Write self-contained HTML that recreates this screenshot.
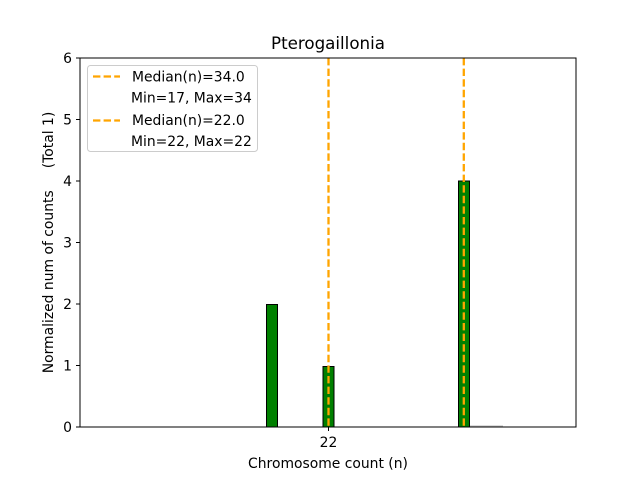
<!DOCTYPE html>
<html><head><meta charset="utf-8"><style>
html,body{margin:0;padding:0;background:#fff;}
svg{display:block;}
text{font-family:"DejaVu Sans","Liberation Sans",sans-serif;fill:#000;}
</style></head><body>
<svg width="640" height="480" viewBox="0 0 640 480" xmlns="http://www.w3.org/2000/svg">
<rect x="0" y="0" width="640" height="480" fill="#fff"/>
<!-- bars -->
<rect x="266.5" y="304.5" width="11" height="122.5" fill="#008000" stroke="#000" stroke-width="1"/>
<rect x="323" y="366.5" width="11" height="60.5" fill="#008000" stroke="#000" stroke-width="1"/>
<rect x="458.5" y="181" width="11" height="246" fill="#008000" stroke="#000" stroke-width="1"/>
<line x1="470" y1="426" x2="503" y2="426" stroke="#bbb" stroke-width="1"/>
<!-- median lines -->
<line x1="328.5" y1="58" x2="328.5" y2="427" stroke="#FFA500" stroke-width="2.3" stroke-dasharray="7.4,3.2"/>
<line x1="463.8" y1="58" x2="463.8" y2="427" stroke="#FFA500" stroke-width="2.3" stroke-dasharray="7.4,3.2"/>
<!-- axes frame -->
<rect x="80" y="58" width="496" height="369" fill="none" stroke="#000" stroke-width="1"/>
<!-- y ticks -->
<g stroke="#000" stroke-width="1">
<line x1="76" y1="427" x2="80" y2="427"/>
<line x1="76" y1="365.5" x2="80" y2="365.5"/>
<line x1="76" y1="304" x2="80" y2="304"/>
<line x1="76" y1="242.5" x2="80" y2="242.5"/>
<line x1="76" y1="181" x2="80" y2="181"/>
<line x1="76" y1="119.5" x2="80" y2="119.5"/>
<line x1="76" y1="58" x2="80" y2="58"/>
<line x1="328.5" y1="427" x2="328.5" y2="431"/>
</g>
<g font-size="13.9" text-anchor="end">
<text x="72" y="432">0</text>
<text x="72" y="370.5">1</text>
<text x="72" y="309">2</text>
<text x="72" y="247.5">3</text>
<text x="72" y="186">4</text>
<text x="72" y="124.5">5</text>
<text x="72" y="63">6</text>
</g>
<text x="328.5" y="447" font-size="13.9" text-anchor="middle">22</text>
<text x="328" y="468" font-size="13.9" text-anchor="middle">Chromosome count (n)</text>
<text x="328" y="49" font-size="16.7" text-anchor="middle">Pterogaillonia</text>
<text transform="translate(53,242.5) rotate(-90)" font-size="13.9" text-anchor="middle" xml:space="preserve">Normalized num of counts     (Total 1)</text>
<!-- legend -->
<rect x="87.5" y="65.5" width="170" height="86" rx="3" fill="#fff" fill-opacity="0.8" stroke="#ccc" stroke-width="1"/>
<line x1="93" y1="76.5" x2="120" y2="76.5" stroke="#FFA500" stroke-width="2.3" stroke-dasharray="7.4,3.2"/>
<line x1="93" y1="120.5" x2="120" y2="120.5" stroke="#FFA500" stroke-width="2.3" stroke-dasharray="7.4,3.2"/>
<g font-size="13.9">
<text x="132" y="81.5">Median(n)=34.0</text>
<text x="131" y="102.5">Min=17, Max=34</text>
<text x="132" y="125">Median(n)=22.0</text>
<text x="131" y="146">Min=22, Max=22</text>
</g>
</svg>
</body></html>
